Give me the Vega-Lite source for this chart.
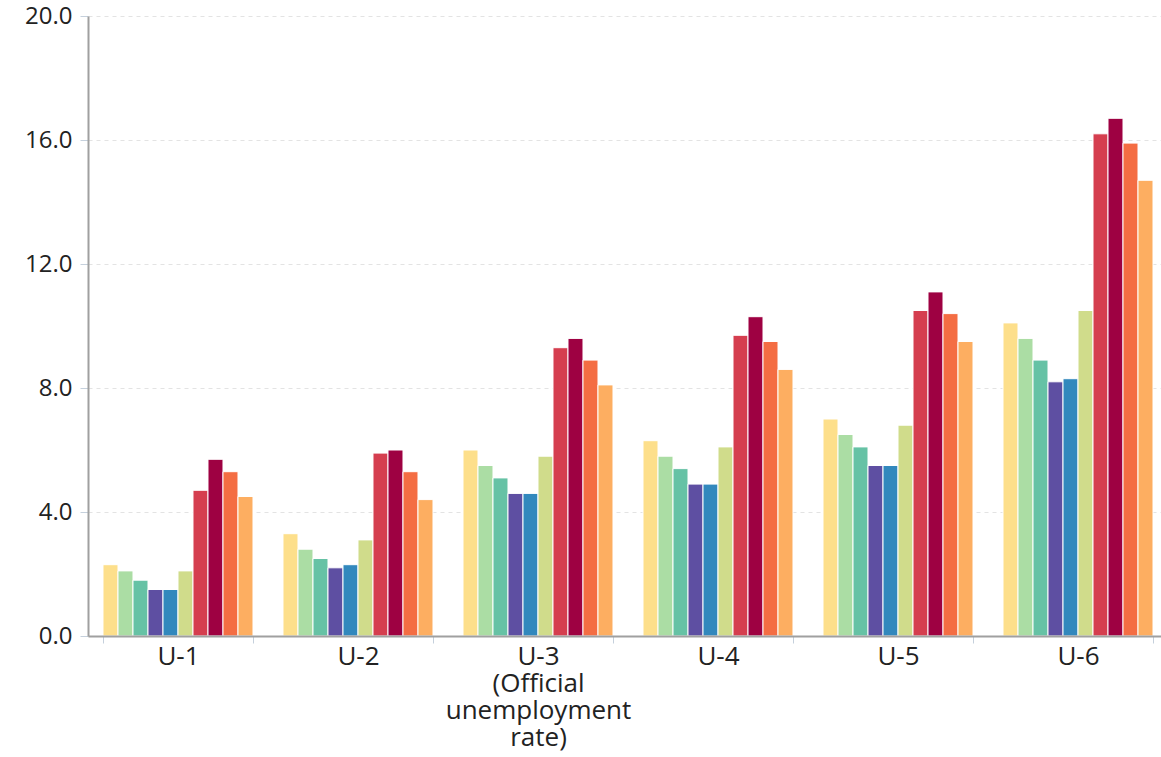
{
  "$schema": "https://vega.github.io/schema/vega-lite/v6.json",
  "width": 1080,
  "height": 620,
  "autosize": {"type": "none"},
  "padding": {"left": 88, "top": 16, "right": 0, "bottom": 121},
  "background": "white",
  "config": {"view": {"stroke": null}, "font": "Open Sans"},
  "data": {
    "values": [
      {"measure": "U-1", "year": "2003", "rate": 2.3},
      {"measure": "U-1", "year": "2004", "rate": 2.1},
      {"measure": "U-1", "year": "2005", "rate": 1.8},
      {"measure": "U-1", "year": "2006", "rate": 1.5},
      {"measure": "U-1", "year": "2007", "rate": 1.5},
      {"measure": "U-1", "year": "2008", "rate": 2.1},
      {"measure": "U-1", "year": "2009", "rate": 4.7},
      {"measure": "U-1", "year": "2010", "rate": 5.7},
      {"measure": "U-1", "year": "2011", "rate": 5.3},
      {"measure": "U-1", "year": "2012", "rate": 4.5},
      {"measure": "U-2", "year": "2003", "rate": 3.3},
      {"measure": "U-2", "year": "2004", "rate": 2.8},
      {"measure": "U-2", "year": "2005", "rate": 2.5},
      {"measure": "U-2", "year": "2006", "rate": 2.2},
      {"measure": "U-2", "year": "2007", "rate": 2.3},
      {"measure": "U-2", "year": "2008", "rate": 3.1},
      {"measure": "U-2", "year": "2009", "rate": 5.9},
      {"measure": "U-2", "year": "2010", "rate": 6.0},
      {"measure": "U-2", "year": "2011", "rate": 5.3},
      {"measure": "U-2", "year": "2012", "rate": 4.4},
      {"measure": "U-3", "year": "2003", "rate": 6.0},
      {"measure": "U-3", "year": "2004", "rate": 5.5},
      {"measure": "U-3", "year": "2005", "rate": 5.1},
      {"measure": "U-3", "year": "2006", "rate": 4.6},
      {"measure": "U-3", "year": "2007", "rate": 4.6},
      {"measure": "U-3", "year": "2008", "rate": 5.8},
      {"measure": "U-3", "year": "2009", "rate": 9.3},
      {"measure": "U-3", "year": "2010", "rate": 9.6},
      {"measure": "U-3", "year": "2011", "rate": 8.9},
      {"measure": "U-3", "year": "2012", "rate": 8.1},
      {"measure": "U-4", "year": "2003", "rate": 6.3},
      {"measure": "U-4", "year": "2004", "rate": 5.8},
      {"measure": "U-4", "year": "2005", "rate": 5.4},
      {"measure": "U-4", "year": "2006", "rate": 4.9},
      {"measure": "U-4", "year": "2007", "rate": 4.9},
      {"measure": "U-4", "year": "2008", "rate": 6.1},
      {"measure": "U-4", "year": "2009", "rate": 9.7},
      {"measure": "U-4", "year": "2010", "rate": 10.3},
      {"measure": "U-4", "year": "2011", "rate": 9.5},
      {"measure": "U-4", "year": "2012", "rate": 8.6},
      {"measure": "U-5", "year": "2003", "rate": 7.0},
      {"measure": "U-5", "year": "2004", "rate": 6.5},
      {"measure": "U-5", "year": "2005", "rate": 6.1},
      {"measure": "U-5", "year": "2006", "rate": 5.5},
      {"measure": "U-5", "year": "2007", "rate": 5.5},
      {"measure": "U-5", "year": "2008", "rate": 6.8},
      {"measure": "U-5", "year": "2009", "rate": 10.5},
      {"measure": "U-5", "year": "2010", "rate": 11.1},
      {"measure": "U-5", "year": "2011", "rate": 10.4},
      {"measure": "U-5", "year": "2012", "rate": 9.5},
      {"measure": "U-6", "year": "2003", "rate": 10.1},
      {"measure": "U-6", "year": "2004", "rate": 9.6},
      {"measure": "U-6", "year": "2005", "rate": 8.9},
      {"measure": "U-6", "year": "2006", "rate": 8.2},
      {"measure": "U-6", "year": "2007", "rate": 8.3},
      {"measure": "U-6", "year": "2008", "rate": 10.5},
      {"measure": "U-6", "year": "2009", "rate": 16.2},
      {"measure": "U-6", "year": "2010", "rate": 16.7},
      {"measure": "U-6", "year": "2011", "rate": 15.9},
      {"measure": "U-6", "year": "2012", "rate": 14.7}
    ]
  },
  "mark": {"type": "bar", "stroke": "white", "strokeWidth": 1},
  "encoding": {
    "x": {
      "field": "measure",
      "type": "nominal",
      "sort": null,
      "scale": {"paddingInner": 0.1667, "paddingOuter": 0.0833},
      "axis": {
        "title": null,
        "zindex": 1,
        "labelAngle": 0,
        "tickBand": "extent",
        "tickColor": "#c5d0dc",
        "tickSize": 7,
        "domainColor": "#a0a0a0",
        "domainWidth": 2,
        "labelFontSize": 26,
        "labelColor": "#222222",
        "labelPadding": 0,
        "labelLineHeight": 27,
        "labelLimit": 0,
        "labelBaseline": "top",
        "labelExpr": "datum.value == 'U-3' ? ['U-3', '(Official', 'unemployment', 'rate)'] : datum.value"
      }
    },
    "xOffset": {
      "field": "year",
      "type": "nominal",
      "scale": {"paddingInner": 0, "paddingOuter": 0}
    },
    "y": {
      "field": "rate",
      "type": "quantitative",
      "scale": {"domain": [0, 20]},
      "axis": {
        "title": null,
        "values": [0, 4, 8, 12, 16, 20],
        "format": ".1f",
        "domainColor": "#a0a0a0",
        "domainWidth": 2,
        "tickColor": "#c5d0dc",
        "tickSize": 8,
        "labelPadding": 8,
        "labelFontSize": 24,
        "labelColor": "#222222",
        "grid": true,
        "gridColor": "#e3e3e3",
        "gridDash": [4, 4]
      }
    },
    "color": {
      "field": "year",
      "type": "nominal",
      "scale": {
        "domain": ["2003", "2004", "2005", "2006", "2007", "2008", "2009", "2010", "2011", "2012"],
        "range": ["#fddf8b", "#abdda4", "#66c2a5", "#5e4fa2", "#3288bd", "#d0dc8b", "#d53e4f", "#9e0142", "#f46d43", "#fdae61"]
      },
      "legend": null
    }
  }
}
